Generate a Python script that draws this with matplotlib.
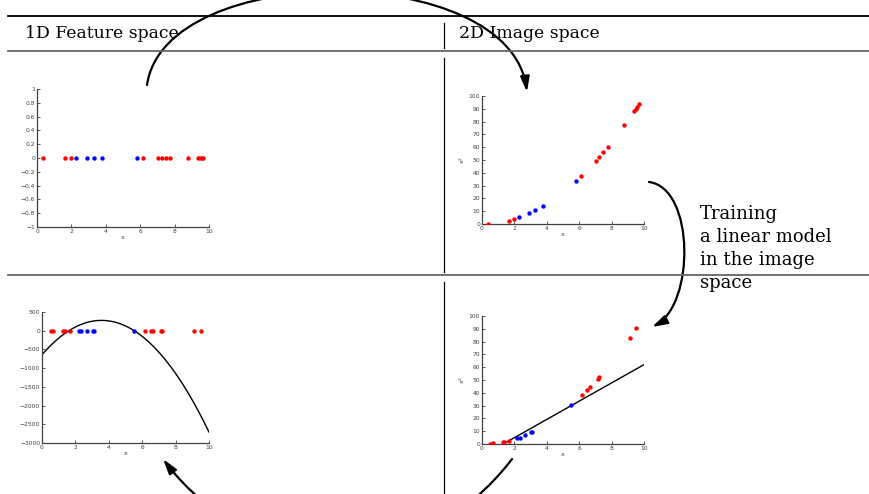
import matplotlib
matplotlib.use("Agg")
import matplotlib.pyplot as plt
import numpy as np
from matplotlib.patches import FancyArrowPatch
from matplotlib.path import Path
from matplotlib.lines import Line2D

# 1D feature values (top row)
tl_red_x = [0.35, 1.65, 1.98, 6.14, 7.01, 7.24, 7.48, 7.75, 8.78, 9.38, 9.48, 9.57, 9.67]
tl_blue_x = [2.29, 2.89, 3.30, 3.79, 5.81]
# image space x^2 values
tr_red_y = [0.1, 2.6, 3.8, 37.5, 49.5, 52.5, 56.2, 60.0, 77.2, 88.2, 89.6, 91.2, 93.8]
tr_blue_y = [5.2, 8.4, 10.9, 14.4, 33.8]

# bottom row
bl_red_x = [0.51, 0.66, 1.27, 1.35, 1.68, 6.17, 6.50, 6.66, 7.13, 7.21, 9.12, 9.53]
bl_blue_x = [2.19, 2.32, 2.68, 3.05, 3.10, 5.49]
br_red_y = [0.3, 0.4, 1.5, 1.8, 2.7, 38.0, 42.3, 44.4, 50.8, 52.0, 83.2, 90.8]
br_blue_y = [4.6, 5.0, 7.0, 9.4, 9.7, 30.2]

# model: quadratic decision function in 1D, line in image space
quad_coef = [-72.1, 514.2, -641.0]
line_slope = 7.13
line_icept = -9.3

header_left = "1D Feature space"
header_right = "2D Image space"
side_text = "Training\na linear model\nin the image\nspace"

W, H = 869, 494
fig = plt.figure(figsize=(W / 100, H / 100), dpi=100)

def px(x, y):
    return x / W, 1 - y / H

def add_ax(l, t, r, b):
    ax = fig.add_axes([l / W, 1 - b / H, (r - l) / W, (b - t) / H])
    for s in ["top", "right"]:
        ax.spines[s].set_visible(False)
    for s in ["left", "bottom"]:
        ax.spines[s].set_linewidth(0.9)
        ax.spines[s].set_color("0.25")
    ax.tick_params(direction="in", length=2, width=0.6, labelsize=4.3, colors="0.25", pad=1.5)
    ax.set_xlim(0, 10)
    ax.set_xticks([0, 2, 4, 6, 8, 10])
    ax.set_xlabel("x", fontsize=4.5, labelpad=1, color="0.25")
    return ax

dot = dict(s=10, linewidths=0, zorder=3)

# top left
ax1 = add_ax(37, 89, 209, 227)
ax1.scatter(tl_red_x, np.zeros(len(tl_red_x)), color="#ff0000", **dot)
ax1.scatter(tl_blue_x, np.zeros(len(tl_blue_x)), color="#0000ff", **dot)
ax1.set_ylim(-1, 1)
yt = np.round(np.arange(-1, 1.01, 0.2), 1) + 0.0
ax1.set_yticks(yt)
ax1.set_yticklabels([("%g" % v).replace("-", "\u2212") if abs(v) > 1e-9 else "0" for v in yt])

# top right
ax2 = add_ax(482, 96, 644, 224)
ax2.scatter(tl_red_x, tr_red_y, color="#ff0000", **dot)
ax2.scatter(tl_blue_x, tr_blue_y, color="#0000ff", **dot)
ax2.set_ylim(0, 100)
ax2.set_yticks(range(0, 101, 10))
ax2.set_ylabel("x$^2$", fontsize=4.5, labelpad=1, color="0.25")

# bottom left
ax3 = add_ax(42, 312, 209, 443)
xs = np.linspace(0, 10, 200)
ax3.plot(xs, np.polyval(quad_coef, xs), color="k", lw=1)
ax3.scatter(bl_red_x, np.zeros(len(bl_red_x)), color="#ff0000", **dot)
ax3.scatter(bl_blue_x, np.zeros(len(bl_blue_x)), color="#0000ff", **dot)
ax3.set_ylim(-3000, 500)
ax3.set_yticks(range(-3000, 501, 500))

# bottom right
ax4 = add_ax(482, 316, 644, 444)
ax4.plot(xs, line_slope * xs + line_icept, color="k", lw=1)
ax4.scatter(bl_red_x, br_red_y, color="#ff0000", **dot)
ax4.scatter(bl_blue_x, br_blue_y, color="#0000ff", **dot)
ax4.set_ylim(0, 100)
ax4.set_yticks(range(0, 101, 10))
ax4.set_ylabel("x$^2$", fontsize=4.5, labelpad=1, color="0.25")

# table rules
def hline(y, color, lw):
    x0, y0 = px(8, y)
    fig.add_artist(Line2D([x0, 1], [y0, y0], color=color, lw=lw, transform=fig.transFigure))

def vline(y1, y2):
    xa, ya = px(444, y1)
    _, yb = px(444, y2)
    fig.add_artist(Line2D([xa, xa], [ya, yb], color="k", lw=0.9, transform=fig.transFigure))

hline(16, "k", 1.3)
hline(51, "0.4", 1.3)
hline(275, "0.4", 1.3)
vline(23, 48)
vline(58, 272)
vline(282, 494)

serif = ["DejaVu Serif"]
fig.text(*px(25, 33), header_left, fontsize=12.4, family=serif, va="center", ha="left")
fig.text(*px(459, 33), header_right, fontsize=12.4, family=serif, va="center", ha="left")
fig.text(*px(700, 205), side_text, fontsize=13, family=serif, va="top", ha="left", linespacing=1.35)

# curved arrows, given as cubic beziers in pixel coords
def arrow(pts):
    verts = [px(x, y) for x, y in pts]
    path = Path(verts, [Path.MOVETO, Path.CURVE4, Path.CURVE4, Path.CURVE4])
    a = FancyArrowPatch(path=path, arrowstyle="-|>,head_length=0.5,head_width=0.15",
                        mutation_scale=18, color="k", lw=1.6,
                        transform=fig.transFigure, clip_on=False)
    fig.add_artist(a)

arrow([(147, 85), (165, -40), (510, -40), (527, 92)])
arrow([(649, 182), (695, 188), (695, 305), (652, 327)])
arrow([(512, 459), (420, 580), (255, 580), (163, 459)])

fig.savefig("out.png", dpi=100)
